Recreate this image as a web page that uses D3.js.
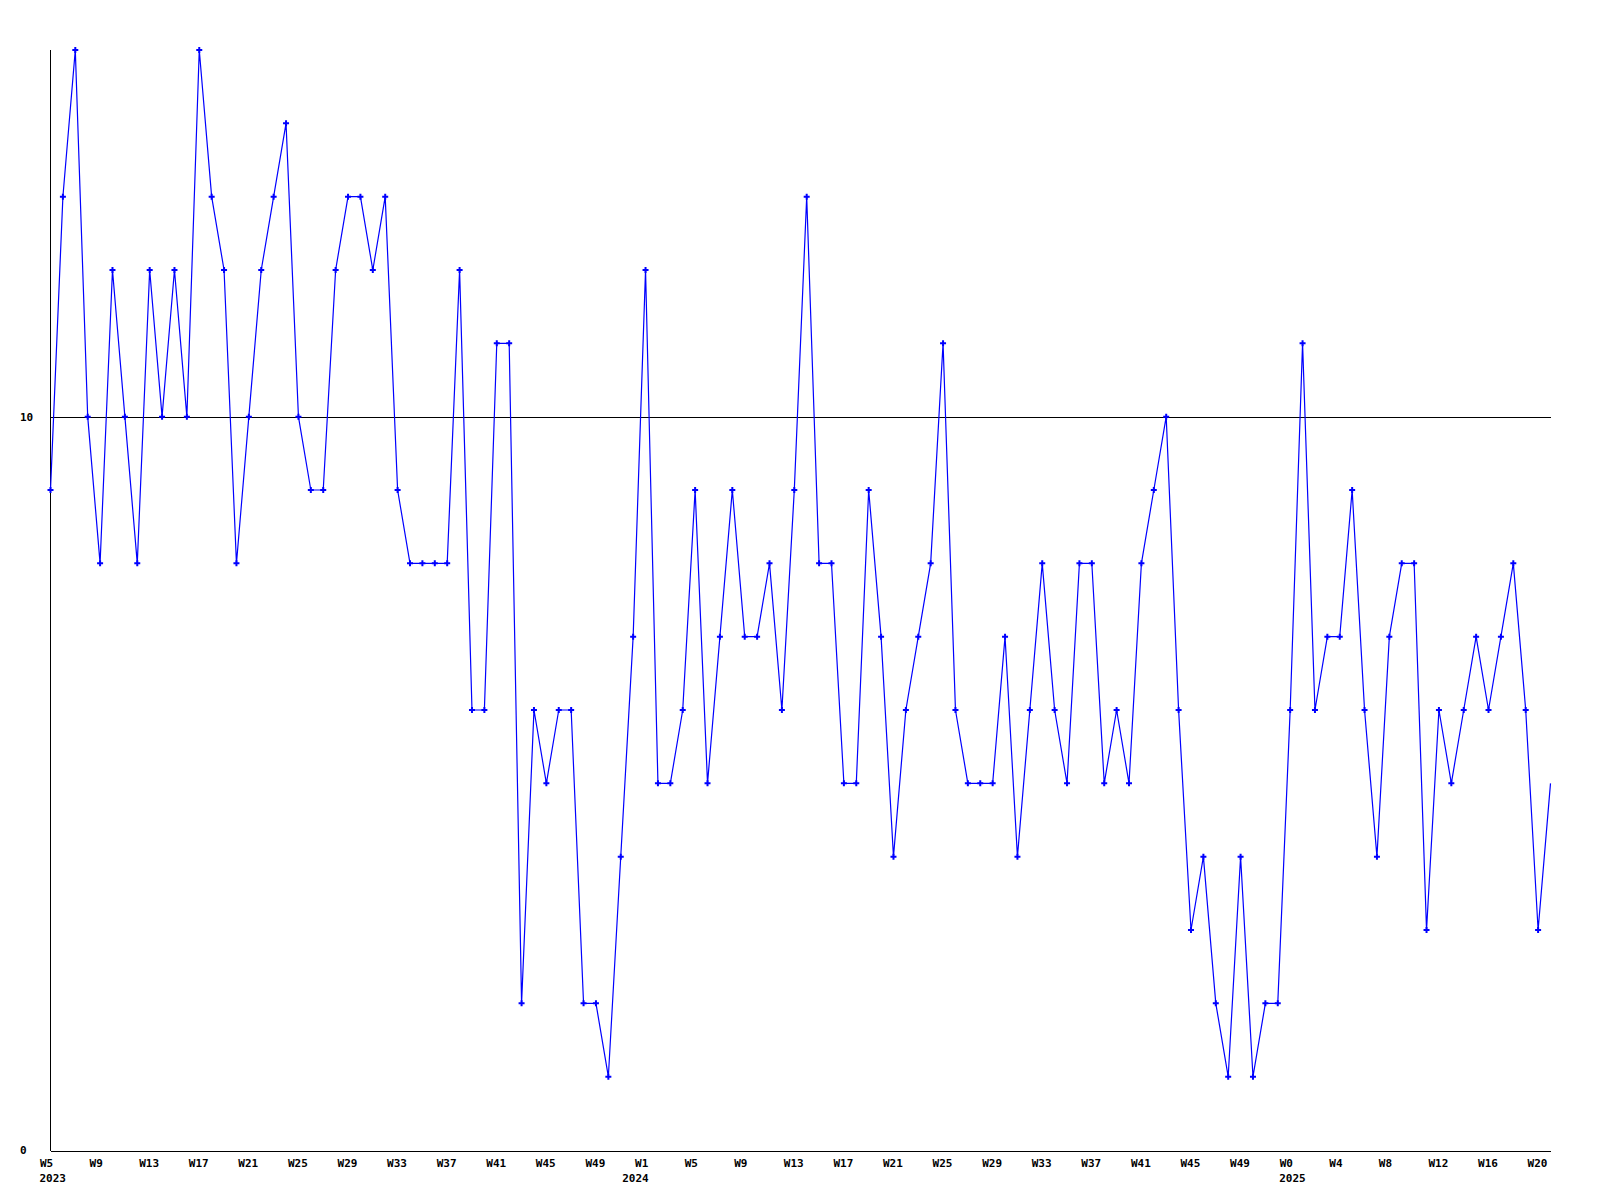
<!DOCTYPE html>
<html>
<head>
<meta charset="utf-8">
<script src="https://cdn.jsdelivr.net/npm/d3@7"></script>
<style>
  html, body { margin: 0; padding: 0; background: #fff; }
  text { font-family: "DejaVu Sans Mono", "Liberation Mono", monospace; font-size: 11px; font-weight: bold; fill: #000; }
</style>
</head>
<body>
<svg id="chart" width="1600" height="1200"></svg>
<script>
// Week categories per year (x positions are the index in this sequence)
const weeks2023 = d3.range(5, 53).map(w => "W" + w);   // W5..W52
const weeks2024 = d3.range(1, 53).map(w => "W" + w);   // W1..W52
const weeks2025 = d3.range(0, 22).map(w => "W" + w);   // W0..W21
const categories = [...weeks2023, ...weeks2024, ...weeks2025];

// Series values
const values2023 = [9,13,15,10,8,12,10,8,12,10,12,10,15,13,12,8,10,12,13,14,10,9,9,12,13,13,12,13,9,8,8,8,8,12,6,6,11,11,2,6,5,6,6,2,2,1,4,7];
const values2024 = [12,5,5,6,9,5,7,9,7,7,8,6,9,13,8,8,5,5,9,7,4,6,7,8,11,6,5,5,5,7,4,6,8,6,5,8,8,5,6,5,8,9,10,6,3,4,2,1,4,1,2,2];
const values2025 = [6,11,6,7,7,9,6,4,7,8,8,3,6,5,6,7,6,7,8,6,3,5];
const values = [...values2023, ...values2024, ...values2025];

// Tick labels: every 4th week, shown at these category indices
const tickIndex = [0,4,8,12,16,20,24,28,32,36,40,44,48,52,56,60,64,68,72,76,80,84,88,92,96,100,104,108,112,116,120];
const tickLabels = ["W5","W9","W13","W17","W21","W25","W29","W33","W37","W41","W45","W49","W1","W5","W9","W13","W17","W21","W25","W29","W33","W37","W41","W45","W49","W0","W4","W8","W12","W16","W20"];
const yearIndex = [0, 47, 100];
const yearLabels = ["2023", "2024", "2025"];
const yTicks = [0, 10];
const refValue = 10;

const svg = d3.select("#chart");
const plotLeft = 50.5, plotRight = 1550.5, plotTop = 50, plotBottom = 1150.5;

const x = d3.scaleLinear().domain([0, categories.length - 1]).range([plotLeft, plotRight]);
const y = d3.scaleLinear().domain([0, 15]).range([1150, 50]);

// Axes
const xAxis = d3.axisBottom(x).tickValues(tickIndex)
  .tickFormat((d, i) => tickLabels[i]).tickSize(0).tickSizeOuter(0);
const gx = svg.append("g").attr("transform", `translate(0,${plotBottom})`).call(xAxis);
gx.select(".domain").attr("stroke", "#000").attr("shape-rendering", "crispEdges");
gx.selectAll(".tick text").attr("text-anchor", "start").attr("x", -11).attr("y", 16).attr("dy", 0)
  .attr("font-family", null).attr("font-size", null);

const gy = svg.append("g").attr("transform", `translate(${plotLeft},0)`)
  .call(d3.axisLeft(y).tickValues(yTicks).tickFormat(d3.format("d")).tickSize(0).tickSizeOuter(0));
gy.select(".domain").attr("stroke", "#000").attr("shape-rendering", "crispEdges")
  .attr("d", `M0,${plotTop}V${plotBottom}`);
gy.selectAll(".tick text").attr("text-anchor", "start").attr("x", 20 - plotLeft).attr("dy", "0.35em")
  .attr("font-family", null).attr("font-size", null);

// Year labels
svg.append("g").selectAll("text").data(yearIndex).join("text")
  .attr("x", d => x(d) - 11).attr("y", plotBottom + 31)
  .text((d, i) => yearLabels[i]);

// Reference line at 10
svg.append("line")
  .attr("x1", plotLeft).attr("x2", plotRight)
  .attr("y1", Math.round(y(refValue)) + 0.5).attr("y2", Math.round(y(refValue)) + 0.5)
  .attr("stroke", "#000").attr("stroke-width", 1).attr("shape-rendering", "crispEdges");

// Series line
const line = d3.line().x((d, i) => x(i)).y(d => y(d));
svg.append("path").datum(values)
  .attr("d", line).attr("fill", "none").attr("stroke", "#0000ff").attr("stroke-width", 1.2);

// Markers (last point has no visible marker in the reference)
svg.append("g").selectAll("path").data(values.slice(0, values.length - 1)).join("path")
  .attr("transform", (d, i) => `translate(${x(i)},${y(d)})`)
  .attr("d", d3.symbol(d3.symbolCross).size(20))
  .attr("fill", "#0000ff");
</script>
</body>
</html>
